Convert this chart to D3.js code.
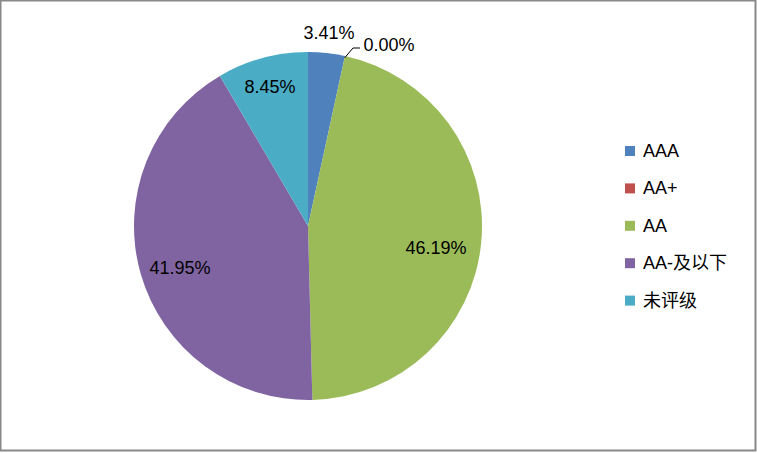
<!DOCTYPE html>
<html><head><meta charset="utf-8">
<script src="https://cdn.jsdelivr.net/npm/d3@7"></script>
<style>body{margin:0;background:#fff;} svg{display:block;}</style>
</head><body>
<svg id="chart" width="757" height="453"></svg>
<script>
const categories = ["AAA", "AA+", "AA", "AA-及以下", "未评级"];
const values = [3.41, 0.00, 46.19, 41.95, 8.45];
const colors = ["#4F81BD", "#C0504D", "#9BBB59", "#8064A2", "#4BACC6"];
const labelPos = [[329, 33], [389, 45], [436, 248], [180, 268], [270, 87]];

const svg = d3.select("#chart");
const font = "'Liberation Sans', 'Noto Sans CJK SC', sans-serif";
svg.append("rect").attr("x", 0.5).attr("y", 0.5).attr("width", 755).attr("height", 450)
  .attr("fill", "#fff").attr("stroke", "#888").attr("stroke-width", 2);

const cx = 308, cy = 226, r = 174;
const pie = d3.pie().sort(null).value(d => d)(values);
const arc = d3.arc().innerRadius(0).outerRadius(r);
const g = svg.append("g").attr("transform", `translate(${cx},${cy})`);
g.selectAll("path").data(pie).enter().append("path")
  .attr("d", arc).attr("fill", (d, i) => colors[i]);

// leader line for 0.00%
const a0 = pie[1].startAngle;
svg.append("polyline")
  .attr("points", `${cx + Math.sin(a0) * (r - 2)},${cy - Math.cos(a0) * (r - 2)} 353,48 360,48`)
  .attr("fill", "none").attr("stroke", "#000").attr("stroke-width", 1);

svg.selectAll("text.lbl").data(values).enter().append("text")
  .attr("class", "lbl")
  .attr("x", (d, i) => labelPos[i][0]).attr("y", (d, i) => labelPos[i][1])
  .attr("text-anchor", "middle").attr("dominant-baseline", "central")
  .attr("font-family", font).attr("font-size", 18).attr("fill", "#000")
  .text(d => d.toFixed(2) + "%");

const leg = svg.append("g");
categories.forEach((c, i) => {
  const y = 151 + i * 37.4;
  leg.append("rect").attr("x", 625).attr("y", y - 5).attr("width", 10).attr("height", 10).attr("fill", colors[i]);
  leg.append("text").attr("x", 643).attr("y", y).attr("dominant-baseline", "central")
    .attr("font-family", font).attr("font-size", 18).attr("fill", "#000").text(c);
});
</script>
</body></html>
